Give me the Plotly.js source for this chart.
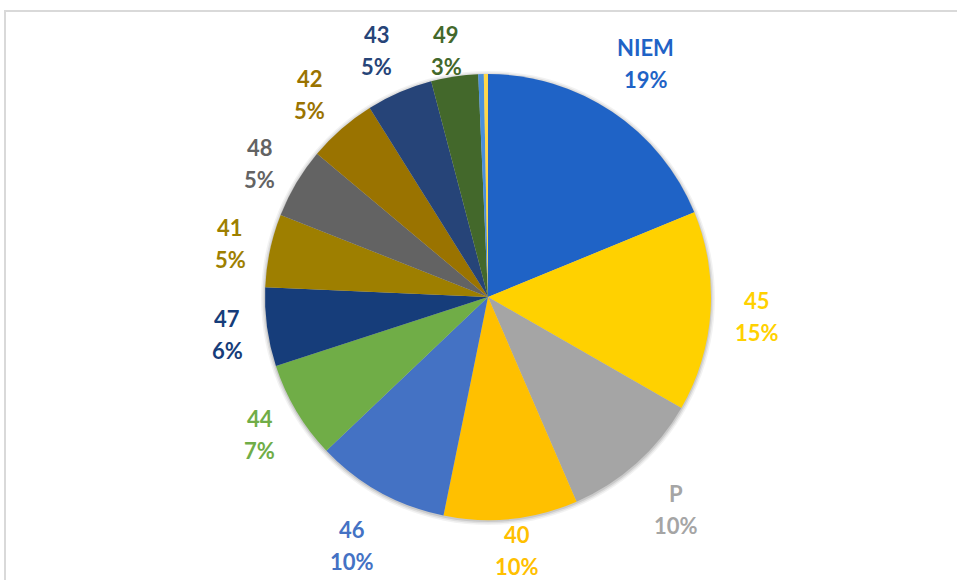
<!DOCTYPE html>
<html>
<head>
<meta charset="utf-8">
<script src="https://cdn.plot.ly/plotly-3.0.1.min.js"></script>
<style>
  html, body { margin: 0; padding: 0; background: #ffffff; }
  #wrap { position: relative; width: 957px; height: 580px; overflow: hidden; }
  #frame { position: absolute; left: 4px; top: 10px; width: 1000px; height: 1000px;
           border-left: 2px solid #d9d9d9; border-top: 2px solid #d9d9d9; box-sizing: border-box; }
  #chart { position: absolute; left: 0; top: 0; width: 957px; height: 580px; }
</style>
</head>
<body>
<div id="wrap">
  <div id="frame"></div>
  <div id="chart"></div>
</div>
<script>
// ---- data ----
const categories = ["NIEM", "45", "P", "40", "46", "44", "47", "41", "48", "42", "43", "49", "S1", "S2"];
const shares = [18.8, 14.5, 10.2, 9.7, 9.7, 7.1, 5.7, 5.3, 5.1, 5.0, 4.8, 3.4, 0.4, 0.3];
const percentLabels = ["19%", "15%", "10%", "10%", "10%", "7%", "6%", "5%", "5%", "5%", "5%", "3%", "", ""];
const showLabel = [true, true, true, true, true, true, true, true, true, true, true, true, false, false];
const sliceColors = ["#1F63C6", "#FFD100", "#A5A5A5", "#FFC000", "#4472C4", "#70AD47", "#163D7A",
                     "#9E7F00", "#636363", "#9A7300", "#264478", "#43682B", "#4A90DC", "#FFD84A"];

// ---- geometry ----
const W = 957, H = 580;
const M = { l: 100, r: 81, t: 74, b: 60 };
const plotW = W - M.l - M.r, plotH = H - M.t - M.b;
const R = Math.min(plotW, plotH) / 2;
const cx = M.l + plotW / 2, cy = M.t + plotH / 2;

const total = shares.reduce((a, b) => a + b, 0);
const annotations = [];
let cum = 0;
const fontFam = "Lato, 'Open Sans', sans-serif";
for (let i = 0; i < categories.length; i++) {
  const mid = (cum + shares[i] / 2) / total * 2 * Math.PI;
  cum += shares[i];
  if (!showLabel[i]) continue;
  const s = Math.sin(mid), c = Math.cos(mid);
  const maxLen = Math.max(categories[i].length, percentLabels[i].length);
  const hw = maxLen * 7 + 2, hh = 30;
  const edge = Math.min(Math.abs(s) > 1e-6 ? hw / Math.abs(s) : 1e9,
                        Math.abs(c) > 1e-6 ? hh / Math.abs(c) : 1e9);
  const d = R + 24 + edge;
  const px = cx + d * s;
  let py = cy - d * c;
  // keep label blocks inside the chart area
  py = Math.max(48, Math.min(548, py)) + 2;
  const xp = (px - M.l) / plotW, yp = (H - M.b - py) / plotH;
  const col = sliceColors[i];
  annotations.push({ x: xp, y: yp, xref: "paper", yref: "paper", text: categories[i],
    showarrow: false, yshift: 16, xanchor: "center", yanchor: "middle",
    font: { family: fontFam, size: 22, color: col, weight: "bold" } });
  annotations.push({ x: xp, y: yp, xref: "paper", yref: "paper", text: percentLabels[i],
    showarrow: false, yshift: -16, xanchor: "center", yanchor: "middle",
    font: { family: fontFam, size: 22, color: col, weight: "bold" } });
}

// soft shadow rings behind the pie
const shapes = [];
[[R + 4, 0.05], [R + 2.5, 0.07], [R + 1, 0.10]].forEach(([rr, op]) => {
  shapes.push({ type: "circle", xref: "paper", yref: "paper", layer: "below",
    x0: (cx - rr - M.l) / plotW, x1: (cx + rr - M.l) / plotW,
    y0: (H - M.b - (cy + rr + 1)) / plotH, y1: (H - M.b - (cy - rr + 1)) / plotH,
    fillcolor: "rgba(0,0,0," + op + ")", line: { width: 0 } });
});

const trace = {
  type: "pie",
  labels: categories,
  values: shares,
  sort: false,
  direction: "clockwise",
  rotation: 0,
  textinfo: "none",
  hoverinfo: "label+percent",
  marker: { colors: sliceColors, line: { width: 0 } },
  showlegend: false
};

Plotly.newPlot("chart", [trace], {
  width: W, height: H,
  margin: M,
  paper_bgcolor: "rgba(0,0,0,0)",
  plot_bgcolor: "rgba(0,0,0,0)",
  showlegend: false,
  annotations: annotations,
  shapes: shapes
}, { displayModeBar: false, staticPlot: true });
</script>
</body>
</html>
